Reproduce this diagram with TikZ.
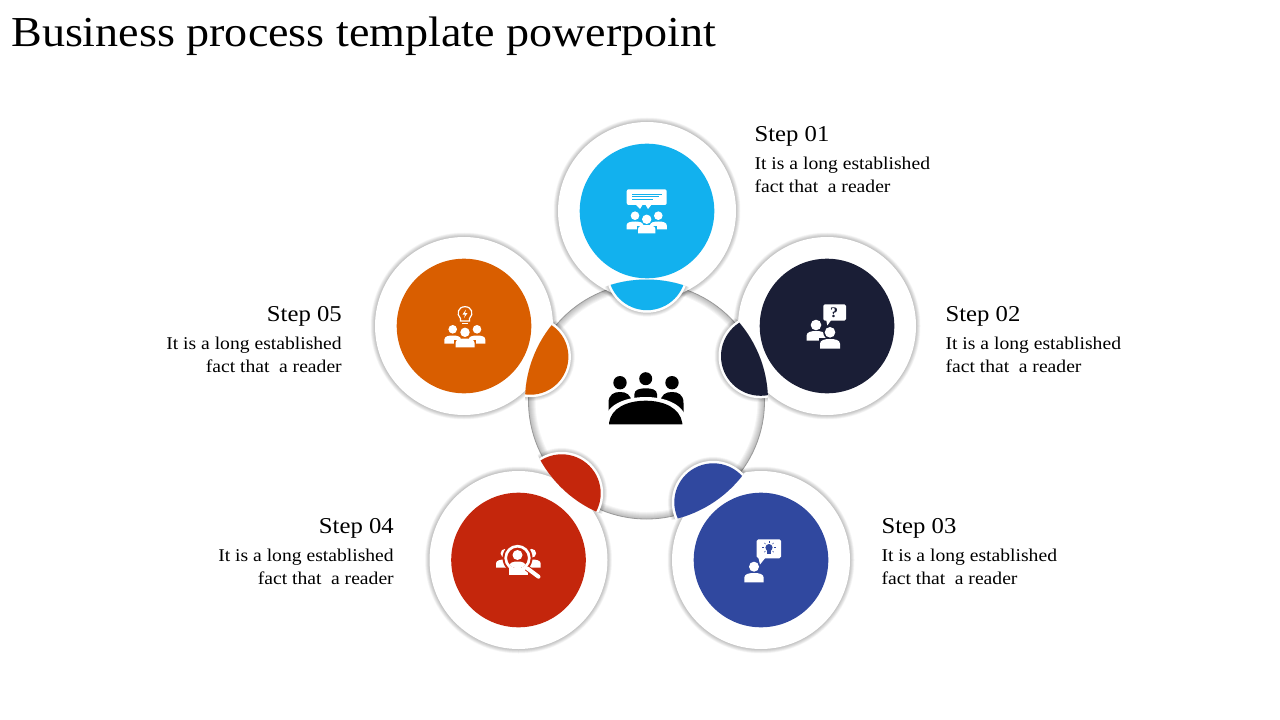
\documentclass[tikz,border=0pt]{standalone}
\usepackage{fontspec}
\usetikzlibrary{calc}
\setmainfont[FakeStretch=1.09]{Liberation Serif}
\newfontfamily\titlefont[FakeStretch=1.08]{Liberation Serif}
\definecolor{cblue}{HTML}{12B1EE}
\definecolor{cnavy}{HTML}{1A1E36}
\definecolor{croyal}{HTML}{30489F}
\definecolor{cred}{HTML}{C4260C}
\definecolor{corange}{HTML}{D95E00}
% person: head x,y,r ; half width ; body top ; body bottom ; colour
\newcommand{\perso}[7]{%
  \fill[#7] (#1,#2) circle[radius=#3];
  \fill[#7] ({#1-#4},#6) -- ({#1-#4},{#5+0.5*(#6-#5)}) .. controls ({#1-#4},{#5+0.1*(#6-#5)}) and ({#1-0.5*#4},#5) .. (#1,#5)
    .. controls ({#1+0.5*#4},#5) and ({#1+#4},{#5+0.1*(#6-#5)}) .. ({#1+#4},{#5+0.5*(#6-#5)}) -- ({#1+#4},#6) -- cycle;}
% halo around a disc
\newcommand{\halo}[4]{%
  \foreach \d in {0.5,1,...,#4}{\fill[black,fill opacity=0.028] (#1,#2) circle[radius=#3+\d];}}
% step disc
\newcommand{\stepdisc}[3]{%
  \halo{#1}{#2}{89}{4.5}
  \fill[white] (#1,#2) circle[radius=89];
  \fill[#3] (#1,#2) circle[radius=67.3];}
% lens
\newcommand{\lens}[4]{%
  \begin{scope}
    \clip (646.5,401) circle[radius=121.5];
    \halo{#1}{#2}{#3+2.5}{4}
    \fill[white] (#1,#2) circle[radius=#3+2.5];
    \fill[#4] (#1,#2) circle[radius=#3];
  \end{scope}}
\newcommand{\bodytext}{It is a long established\\fact that\hspace{3.5pt} a reader}
\tikzset{
  titletext/.style={inner sep=0pt,anchor=base west,font=\titlefont\fontsize{32}{38}\selectfont},
  headl/.style={inner sep=0pt,anchor=base west,font=\fontsize{17}{20}\selectfont},
  headr/.style={inner sep=0pt,anchor=base east,font=\fontsize{17}{20}\selectfont},
  bodyl/.style={inner sep=0pt,anchor=north west,align=left,font=\fontsize{13.5}{17.25}\selectfont},
  bodyr/.style={inner sep=0pt,anchor=north east,align=right,font=\fontsize{13.5}{17.25}\selectfont},
}
\begin{document}
\begin{tikzpicture}[x=0.75pt,y=-0.75pt]
\useasboundingbox (0,0) rectangle (1280,720);
\fill[white] (0,0) rectangle (1280,720);
\node[titletext] (title) at (11,47) {Business process template powerpoint};

% centre disc with inner shading
\fill[white] (646.5,401) circle[radius=118];
\begin{scope}
  \clip (646.5,401) circle[radius=118];
  \foreach \w in {2,4,...,14}{\draw[black,opacity=0.04,line width=\w*0.75pt] (646.5,401) circle[radius=118];}
\end{scope}
\draw[black!40,line width=0.6pt] (646.5,401) circle[radius=118];

\stepdisc{647}{211}{cblue}
\stepdisc{827}{326}{cnavy}
\stepdisc{761}{560}{croyal}
\stepdisc{518.5}{560}{cred}
\stepdisc{464}{326}{corange}

\lens{647}{271.4}{38.8}{cblue}
\lens{760.7}{356.1}{39.7}{cnavy}
\lens{713.3}{502.3}{39}{croyal}
\lens{561.7}{493.3}{39}{cred}
\lens{530.4}{356.7}{38}{corange}

% centre icon
\perso{620}{382.7}{6.7}{11.5}{392}{414}{black}
\perso{672}{382.7}{6.7}{11.5}{392}{414}{black}
\perso{645.7}{378.7}{6.5}{11.3}{388.3}{400}{black}
\fill[white] (604,425) -- (604,424) .. controls (604,405) and (625,397) .. (645.7,397) .. controls (666,397) and (687,405) .. (687,424) -- (687,425) -- cycle;
\fill[black] (609,424.3) -- (609,423) .. controls (611,408) and (627,400.7) .. (645.7,400.7) .. controls (664,400.7) and (680,408) .. (682.3,423) -- (682.3,424.3) -- cycle;

% icon 1
\fill[white,rounded corners=1.5pt] (626.7,189.3) rectangle (666.7,205);
\fill[white] (635,204) -- (640,209) -- (643,204) -- cycle;
\fill[white] (645,204) -- (648,209) -- (652,204) -- cycle;
\draw[cblue,line width=0.6pt] (632,194) -- (661.7,194) (632,196.7) -- (659,196.7) (632,199.2) -- (653,199.2);
\perso{635}{215.7}{4.3}{8.5}{221.5}{229.5}{white}
\perso{658.3}{215.7}{4.3}{8.5}{221.5}{229.5}{white}
\fill[cblue] (646.7,219.3) circle[radius=5.7];
\fill[cblue] (636.8,234) rectangle (656.6,226);
\perso{646.7}{219.3}{4.7}{8.7}{225}{233.3}{white}

% icon 2
\fill[white,rounded corners=1.2pt] (823.3,304.3) rectangle (846,320.7);
\fill[white] (826,319) -- (827.3,325.5) -- (832,319) -- cycle;
\node[inner sep=0pt,text=cnavy,font=\fontsize{11}{12}\selectfont\bfseries] (qmark) at (834,312.5) {?};
\perso{816}{325}{5.3}{9.5}{331}{340.5}{white}
\fill[cnavy] (830,332.3) circle[radius=6.8];
\fill[cnavy] (818.6,349) rectangle (841.4,337.5);
\perso{830}{332.3}{5.3}{10}{339}{348.5}{white}

% icon 3
\fill[white,rounded corners=1.2pt] (756.7,539.3) rectangle (781,558.3);
\fill[white] (758,556) -- (760,564.5) -- (766,557) -- cycle;
\fill[croyal] (769,547.6) circle[radius=3.6];
\fill[croyal] (767.4,550) rectangle (770.6,554);
\foreach \a in {0,45,135,180,225,270,315}{\draw[croyal,line width=0.4pt] ($(769,547.6)+(\a:5)$) -- ($(769,547.6)+(\a:6.6)$);}
\perso{754}{566.7}{5}{9.7}{573}{582.3}{white}

% icon 4
\perso{505}{553.3}{4.4}{9}{559.5}{567.5}{white}
\perso{531.7}{553.3}{4.4}{9}{559.5}{567.5}{white}
\fill[cred] (517.5,558) circle[radius=15];
\fill[white] (508.5,575.3) rectangle (528,568);
\draw[cred,line width=4.4pt] (527,568) -- (539,578);
\draw[white,line width=3pt,line cap=round] (527.5,568.5) -- (538.5,576.7);
\draw[white,line width=2pt] (517.5,558) circle[radius=11.8];
\begin{scope}
  \clip (517.5,558) circle[radius=10.4];
  \perso{517.5}{555}{5}{8.5}{561.5}{572}{white}
\end{scope}

% icon 5
\draw[white,line width=0.9pt] (460.5,318.5) .. controls (456,314) and (458,306.7) .. (465,306.7) .. controls (472,306.7) and (474,314) .. (469.5,318.5) -- (469.5,321) -- (460.5,321) -- cycle;
\draw[white,line width=0.9pt] (462,323.3) -- (468,323.3);
\fill[white] (466,309.5) -- (462.5,314.5) -- (465,314.5) -- (464,318) -- (467.5,313) -- (465,313) -- cycle;
\perso{452.7}{329.3}{4.3}{8.3}{335.5}{343.5}{white}
\perso{477}{329.3}{4.3}{8.3}{335.5}{343.5}{white}
\fill[corange] (465,332.3) circle[radius=5.7];
\fill[corange] (454.3,348) rectangle (475.7,339.5);
\perso{465}{332.3}{4.7}{9.5}{338.5}{347.3}{white}

% labels
\node[headl] (h1) at (754.3,141.5) {Step 01};
\node[bodyl] (b1) at (754.3,157) {\bodytext};
\node[headl] (h2) at (945.3,321) {Step 02};
\node[bodyl] (b2) at (945.3,337) {\bodytext};
\node[headl] (h3) at (881.3,533) {Step 03};
\node[bodyl] (b3) at (881.3,549) {\bodytext};
\node[headr] (h4) at (394,533) {Step 04};
\node[bodyr] (b4) at (394,549) {\bodytext};
\node[headr] (h5) at (342,321) {Step 05};
\node[bodyr] (b5) at (342,337) {\bodytext};
\end{tikzpicture}
\end{document}
